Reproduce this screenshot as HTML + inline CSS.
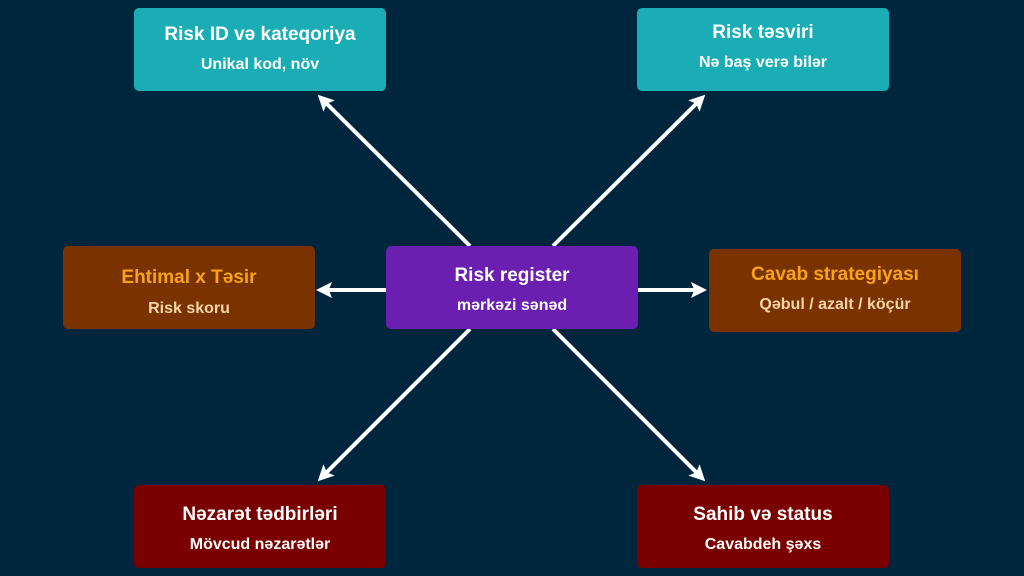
<!DOCTYPE html>
<html><head><meta charset="utf-8"><style>
body{margin:0;width:1024px;height:576px;background:#00263e;position:relative;overflow:hidden;font-family:"Liberation Sans",sans-serif;font-weight:bold}
.b{position:absolute;width:252px;height:83px;border-radius:5px;text-align:center}
.t{position:absolute;left:0;right:0;top:14px;font-size:19px}
.s{position:absolute;left:0;right:0;top:46px;font-size:16px}
.teal{background:#1aadb5;color:#fff}
.pur{background:#6a1fb0;color:#fff}
.br{background:#7a3300}.br .t{color:#f7a21b}.br .s{color:#f8d4a8}
.red{background:#7a0000;color:#fff}
svg{position:absolute;left:0;top:0}
</style></head><body>
<svg width="1024" height="576"><defs><marker id="a" markerWidth="4" markerHeight="4" refX="2.5" refY="2" orient="auto" markerUnits="strokeWidth"><path d="M0,0 L4,2 L0,4 L0.8,2 z" fill="#fff"/></marker></defs>
<g stroke="#fff" stroke-width="4" marker-end="url(#a)">
<line x1="470" y1="246" x2="322" y2="99"/>
<line x1="553" y1="246" x2="701" y2="99"/>
<line x1="386" y1="290" x2="322" y2="290"/>
<line x1="637" y1="290" x2="701" y2="290"/>
<line x1="470" y1="329" x2="322" y2="477"/>
<line x1="553" y1="329" x2="701" y2="477"/>
</g></svg>
<div class="b teal" style="left:134px;top:8px"><div class="t" style="top:16px">Risk ID və kateqoriya</div><div class="s" style="top:48px">Unikal kod, növ</div></div>
<div class="b teal" style="left:637px;top:8px"><div class="t">Risk təsviri</div><div class="s">Nə baş verə bilər</div></div>
<div class="b br" style="left:63px;top:246px"><div class="t" style="top:21px">Ehtimal x Təsir</div><div class="s" style="top:54px">Risk skoru</div></div>
<div class="b pur" style="left:386px;top:246px"><div class="t" style="top:19px">Risk register</div><div class="s" style="top:51px">mərkəzi sənəd</div></div>
<div class="b br" style="left:709px;top:249px"><div class="t" style="top:15px">Cavab strategiyası</div><div class="s" style="top:47px">Qəbul / azalt / köçür</div></div>
<div class="b red" style="left:134px;top:485px"><div class="t" style="top:19px">Nəzarət tədbirləri</div><div class="s" style="top:51px">Mövcud nəzarətlər</div></div>
<div class="b red" style="left:637px;top:485px"><div class="t" style="top:19px">Sahib və status</div><div class="s" style="top:51px">Cavabdeh şəxs</div></div>
</body></html>
